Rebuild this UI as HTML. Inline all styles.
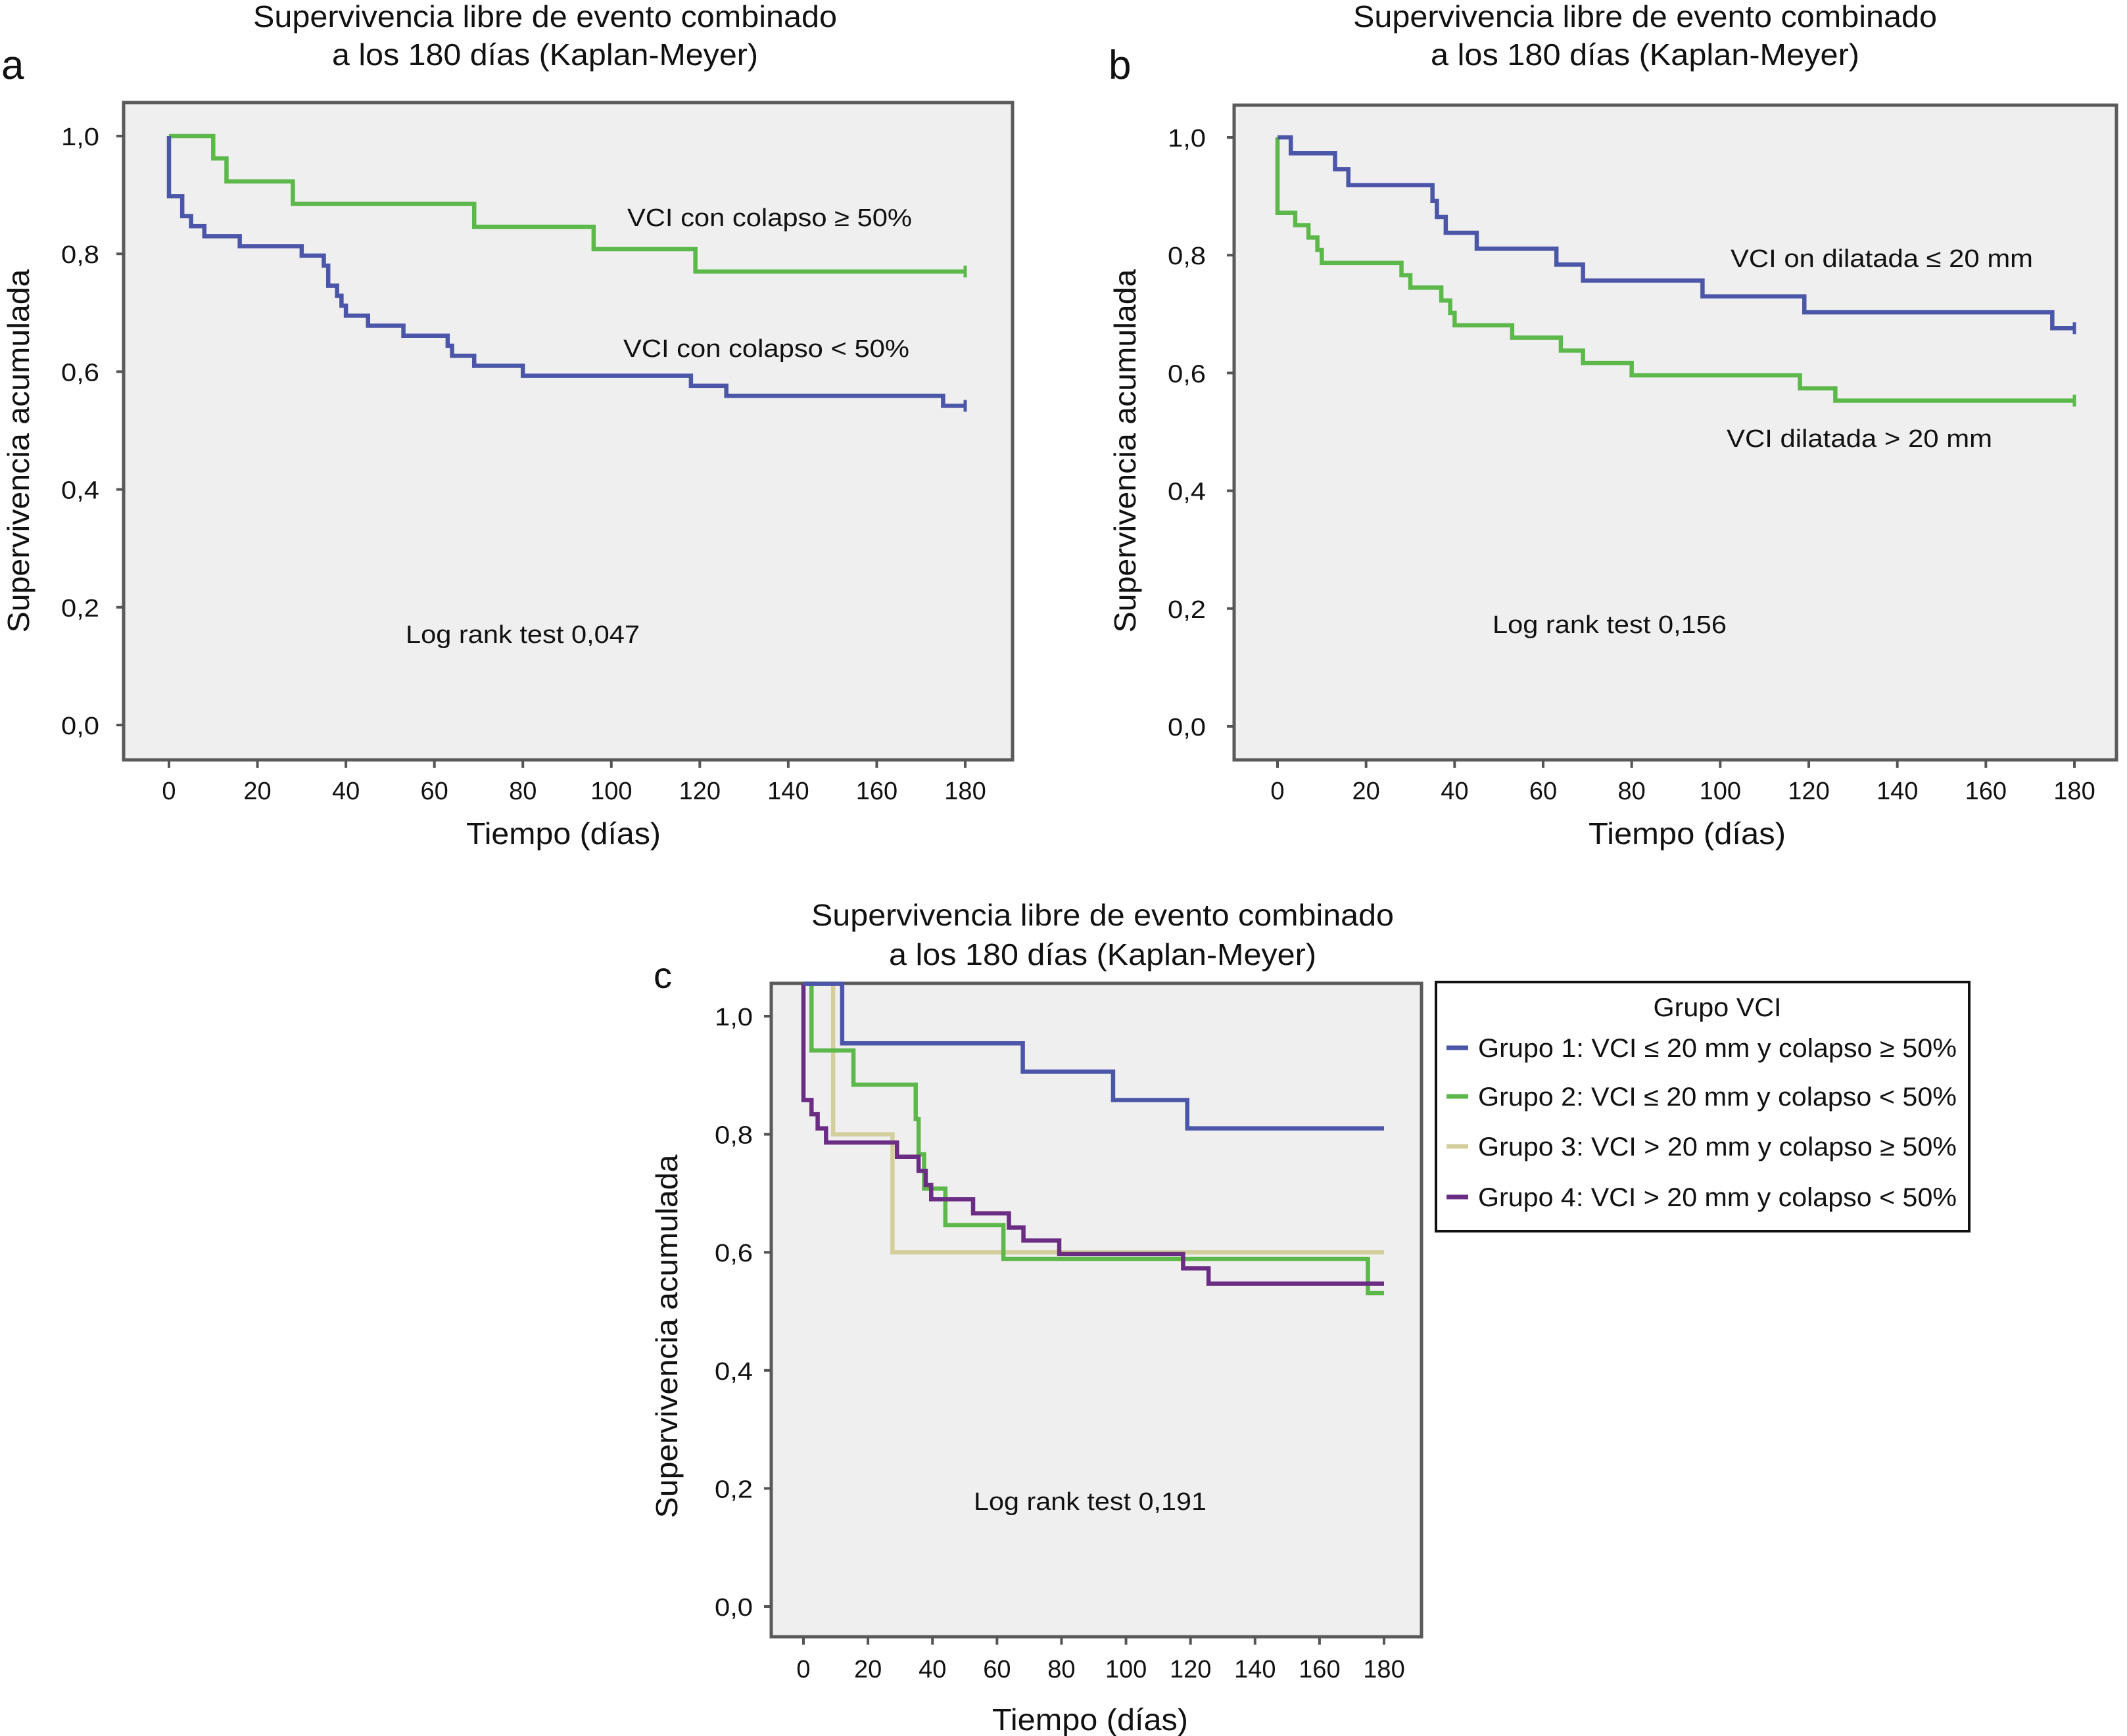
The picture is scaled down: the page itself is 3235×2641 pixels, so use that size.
<!DOCTYPE html>
<html><head><meta charset="utf-8"><style>
html,body{margin:0;padding:0;background:#fff;}
svg{display:block;font-family:"Liberation Sans",Arial,sans-serif;}
</style></head><body>
<svg id="chart" xmlns="http://www.w3.org/2000/svg" width="3235" height="2641" viewBox="0 0 3235 2641"></svg>
<script>
// ---- Data ----
const yTicks = [0, 0.2, 0.4, 0.6, 0.8, 1.0];
const yTickLabels = ["0,0", "0,2", "0,4", "0,6", "0,8", "1,0"];
const xTicks = [0, 20, 40, 60, 80, 100, 120, 140, 160, 180];

// Panel a
const aGreenTimes = [0, 10, 13, 28, 69, 96, 119, 180];
const aGreenSurv  = [1.0, 0.962, 0.923, 0.885, 0.846, 0.808, 0.770, 0.770];
const aBlueTimes = [0, 0, 3, 5, 8, 16, 30, 35, 36, 38, 39, 40, 45, 53, 63, 64, 69, 80, 118, 126, 175, 180];
const aBlueSurv  = [1.0, 0.898, 0.864, 0.847, 0.830, 0.813, 0.797, 0.780, 0.746, 0.729, 0.712, 0.695, 0.678, 0.661, 0.644, 0.627, 0.610, 0.593, 0.576, 0.559, 0.542, 0.542];

// Panel b
const bBlueTimes = [0, 3, 13, 16, 35, 36, 38, 45, 63, 69, 96, 119, 175, 180];
const bBlueSurv  = [1.0, 0.973, 0.946, 0.919, 0.892, 0.865, 0.838, 0.811, 0.784, 0.757, 0.730, 0.703, 0.676, 0.676];
const bGreenTimes = [0, 0, 4, 7, 9, 10, 28, 30, 37, 39, 40, 53, 64, 69, 80, 118, 126, 180];
const bGreenSurv  = [1.0, 0.872, 0.851, 0.830, 0.809, 0.787, 0.766, 0.745, 0.723, 0.702, 0.681, 0.660, 0.638, 0.617, 0.596, 0.574, 0.553, 0.553];

// Panel c
const cG1Times = [0, 12, 68, 96, 119, 180];
const cG1Surv  = [1.055, 0.954, 0.906, 0.858, 0.810, 0.810];
const cG2Times = [0, 2.5, 15.5, 34.8, 35.7, 37.4, 44, 62, 175, 180];
const cG2Surv  = [1.055, 0.942, 0.884, 0.826, 0.766, 0.708, 0.646, 0.589, 0.531, 0.531];
const cG3Times = [0, 9.2, 27.6, 180];
const cG3Surv  = [1.055, 0.800, 0.600, 0.600];
const cG4Times = [0, 0, 2.5, 4.4, 7, 29, 35.7, 37.9, 39.6, 52.6, 63.7, 68.2, 79.3, 117.7, 125.6, 180];
const cG4Surv  = [1.055, 0.858, 0.834, 0.810, 0.786, 0.762, 0.738, 0.714, 0.690, 0.666, 0.642, 0.620, 0.597, 0.573, 0.547, 0.547];

const BLUE = "#4b56a8", GREEN = "#5cb84a", TAN = "#d3cf9c", PURPLE = "#6b2c84";
const NS = "http://www.w3.org/2000/svg";
const svg = document.getElementById("chart");

function el(tag, attrs, parent) {
  const e = document.createElementNS(NS, tag);
  for (const k in attrs) e.setAttribute(k, attrs[k]);
  (parent || svg).appendChild(e);
  return e;
}
function txt(str, x, y, size, anchor, len, parent) {
  const t = el("text", {x: x, y: y, "font-size": size, "text-anchor": anchor || "middle", fill: "#111"}, parent);
  if (len) { t.setAttribute("textLength", len); t.setAttribute("lengthAdjust", "spacingAndGlyphs"); }
  t.textContent = str;
  return t;
}

function panel(cfg) {
  const g = el("g", {});
  
  
  const xs = d => cfg.x0 + (d / 180) * (cfg.x180 - cfg.x0);
  const ys = v => cfg.y0 + v * (cfg.y1 - cfg.y0);
  const bg = el("rect", {x: cfg.bx0, y: cfg.by0, width: cfg.bx1 - cfg.bx0, height: cfg.by1 - cfg.by0, fill: "#efefef", stroke: "#5a5a5a", "stroke-width": 5}, g);
  
  
  yTicks.forEach((v, i) => {
    el("line", {x1: cfg.bx0 - 11, x2: cfg.bx0, y1: ys(v), y2: ys(v), stroke: "#555", "stroke-width": 4}, g);
    const t = txt(yTickLabels[i], cfg.ylabR, ys(v) + 14, 38, "end", 58, g);
    
    
  });
  xTicks.forEach(d => {
    el("line", {x1: xs(d), x2: xs(d), y1: cfg.by1, y2: cfg.by1 + 12, stroke: "#555", "stroke-width": 4}, g);
    const t = txt(String(d), xs(d), cfg.xlabY, 38, "middle", null, g);
    
    
  });
  cfg.series.forEach(s => {
    let d = "M" + xs(s.t[0]) + "," + ys(s.v[0]);
    for (let i = 1; i < s.t.length; i++) {
      d += " H" + xs(s.t[i]) + " V" + ys(s.v[i]);
    }
    const p = el("path", {d: d, fill: "none", stroke: s.c, "stroke-width": 6.5, "stroke-linejoin": "miter"}, g);
    
    
    if (s.cens) {
      const cx = xs(s.t[s.t.length - 1]), cy = ys(s.v[s.v.length - 1]);
      el("line", {x1: cx, x2: cx, y1: cy - 9, y2: cy + 9, stroke: s.c, "stroke-width": 5}, g);
    }
  });
  return g;
}

panel({name: "panel-a", bx0: 188, bx1: 1540, by0: 156, by1: 1156, x0: 257, x180: 1468, y1: 207, y0: 1103, ylabR: 151, xlabY: 1216,
  series: [{t: aGreenTimes, v: aGreenSurv, c: GREEN, n: "curve-colapso-ge-50", cens: true},
           {t: aBlueTimes, v: aBlueSurv, c: BLUE, n: "curve-colapso-lt-50", cens: true}]});
panel({name: "panel-b", bx0: 1877, bx1: 3219, by0: 160, by1: 1156, x0: 1943, x180: 3155, y1: 209, y0: 1105, ylabR: 1834, xlabY: 1216,
  series: [{t: bGreenTimes, v: bGreenSurv, c: GREEN, n: "curve-dilatada", cens: true},
           {t: bBlueTimes, v: bBlueSurv, c: BLUE, n: "curve-no-dilatada", cens: true}]});
panel({name: "panel-c", bx0: 1173, bx1: 2162, by0: 1496, by1: 2490, x0: 1222, x180: 2105, y1: 1546, y0: 2444, ylabR: 1145, xlabY: 2552,
  series: [{t: cG3Times, v: cG3Surv, c: TAN, n: "curve-grupo-3"},
           {t: cG2Times, v: cG2Surv, c: GREEN, n: "curve-grupo-2"},
           {t: cG4Times, v: cG4Surv, c: PURPLE, n: "curve-grupo-4"},
           {t: cG1Times, v: cG1Surv, c: BLUE, n: "curve-grupo-1"}]});
</script>
<script>
function T(name, str, x, y, size, len, anchor, rot) {
  const t = document.createElementNS("http://www.w3.org/2000/svg", "text");
  t.setAttribute("x", x); t.setAttribute("y", y);
  t.setAttribute("font-size", size); t.setAttribute("fill", "#111");
  t.setAttribute("text-anchor", anchor || "middle");
  if (len) { t.setAttribute("textLength", len); t.setAttribute("lengthAdjust", "spacingAndGlyphs"); }
  if (rot) t.setAttribute("transform", "rotate(-90 " + x + " " + y + ")");
  
  
  t.textContent = str;
  document.getElementById("chart").appendChild(t);
}
T("panel-a-title-line1", "Supervivencia libre de evento combinado", 829, 41, 46, 888);
T("panel-a-title-line2", "a los 180 días (Kaplan-Meyer)", 829, 99, 46, 648);
T("panel-a-letter", "a", 2, 120, 62, null, "start");
T("panel-a-y-axis-title", "Supervivencia acumulada", 44, 686, 46, 553, "middle", true);
T("panel-a-x-axis-title", "Tiempo (días)", 857, 1284, 46, 296);
T("panel-a-label-ge50", "VCI con colapso ≥ 50%", 954, 344, 38, 433, "start");
T("panel-a-label-lt50", "VCI con colapso < 50%", 948, 543, 38, 435, "start");
T("panel-a-logrank", "Log rank test 0,047", 617, 978, 38, 356, "start");
T("panel-b-title-line1", "Supervivencia libre de evento combinado", 2502, 41, 46, 888);
T("panel-b-title-line2", "a los 180 días (Kaplan-Meyer)", 2502, 99, 46, 652);
T("panel-b-letter", "b", 1686, 120, 62, null, "start");
T("panel-b-y-axis-title", "Supervivencia acumulada", 1727, 686, 46, 553, "middle", true);
T("panel-b-x-axis-title", "Tiempo (días)", 2566, 1284, 46, 300);
T("panel-b-label-no-dilatada", "VCI on dilatada ≤ 20 mm", 2632, 406, 38, 460, "start");
T("panel-b-label-dilatada", "VCI dilatada > 20 mm", 2626, 680, 38, 404, "start");
T("panel-b-logrank", "Log rank test 0,156", 2270, 963, 38, 356, "start");
T("panel-c-title-line1", "Supervivencia libre de evento combinado", 1677, 1408, 46, 886);
T("panel-c-title-line2", "a los 180 días (Kaplan-Meyer)", 1677, 1468, 46, 650);
T("panel-c-letter", "c", 994, 1503, 56, null, "start");
T("panel-c-y-axis-title", "Supervivencia acumulada", 1030, 2033, 46, 553, "middle", true);
T("panel-c-x-axis-title", "Tiempo (días)", 1658, 2632, 46, 298);
T("panel-c-logrank", "Log rank test 0,191", 1481, 2297, 38, 354, "start");
</script>
<script>
(function(){
  const NS = "http://www.w3.org/2000/svg";
  const svg = document.getElementById("chart");
  const g = document.createElementNS(NS, "g");
  
  
  svg.appendChild(g);
  const r = document.createElementNS(NS, "rect");
  r.setAttribute("x", 2184); r.setAttribute("y", 1494); r.setAttribute("width", 811); r.setAttribute("height", 379);
  r.setAttribute("fill", "#fff"); r.setAttribute("stroke", "#111"); r.setAttribute("stroke-width", 4);
  g.appendChild(r);
  const legendLabels = ["Grupo 1: VCI ≤ 20 mm y colapso ≥ 50%", "Grupo 2: VCI ≤ 20 mm y colapso < 50%", "Grupo 3: VCI > 20 mm y colapso ≥ 50%", "Grupo 4: VCI > 20 mm y colapso < 50%"];
  const legendColors = ["#4b56a8", "#5cb84a", "#d3cf9c", "#6b2c84"];
  const rowY = [1594, 1668, 1744, 1821];
  const title = document.createElementNS(NS, "text");
  title.setAttribute("x", 2612); title.setAttribute("y", 1546); title.setAttribute("font-size", 40);
  title.setAttribute("text-anchor", "middle"); title.setAttribute("fill", "#111");
  title.setAttribute("textLength", 195); title.setAttribute("lengthAdjust", "spacingAndGlyphs");
  
  
  title.textContent = "Grupo VCI";
  g.appendChild(title);
  legendLabels.forEach((lab, i) => {
    const ln = document.createElementNS(NS, "line");
    ln.setAttribute("x1", 2200); ln.setAttribute("x2", 2233); ln.setAttribute("y1", rowY[i]); ln.setAttribute("y2", rowY[i]);
    ln.setAttribute("stroke", legendColors[i]); ln.setAttribute("stroke-width", 7);
    
    
    g.appendChild(ln);
    const t = document.createElementNS(NS, "text");
    t.setAttribute("x", 2248); t.setAttribute("y", rowY[i] + 14); t.setAttribute("font-size", 40);
    t.setAttribute("fill", "#111"); t.setAttribute("textLength", 728); t.setAttribute("lengthAdjust", "spacingAndGlyphs");
    
    
    t.textContent = lab;
    g.appendChild(t);
  });
})();
</script>
</body></html>
